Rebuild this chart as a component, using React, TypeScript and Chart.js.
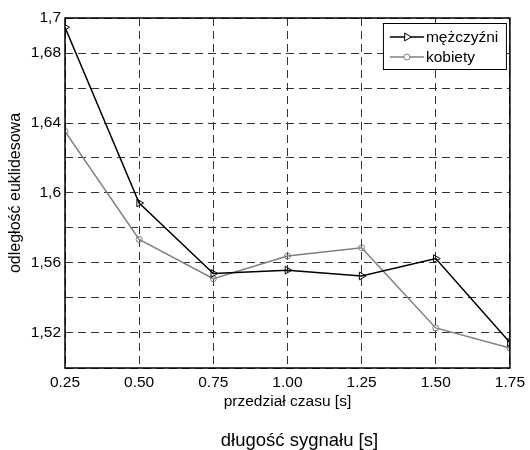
import React, { useEffect, useRef } from 'react';
import { Chart, registerables } from 'chart.js';

Chart.register(...registerables);

const xValues = [0.25, 0.5, 0.75, 1.0, 1.25, 1.5, 1.75];
const menValues = [1.6947, 1.5943, 1.554, 1.5559, 1.5526, 1.5625, 1.5146];
const womenValues = [1.6352, 1.5735, 1.551, 1.564, 1.5687, 1.5229, 1.5114];
const yLabeledTicks = [1.52, 1.56, 1.6, 1.64, 1.68, 1.7];
const seriesNames = ['mężczyźni', 'kobiety'];
const xTitle = 'przedział czasu [s]';
const yTitle = 'odległość euklidesowa';
const bottomTitle = 'długość sygnału [s]';

const FONT = '"Liberation Sans", Arial, sans-serif';
const MEN_COLOR = '#000000';
const WOMEN_COLOR = '#7f7f7f';

const framePlugin = {
  id: 'frameAndLegend',
  afterDraw(chart: any) {
    const { ctx, chartArea } = chart;
    const { left, right, top, bottom } = chartArea;
    ctx.save();
    // frame
    ctx.strokeStyle = '#000';
    ctx.lineWidth = 1.5;
    ctx.setLineDash([]);
    ctx.strokeRect(left, top, right - left, bottom - top);

    // legend box
    const bw = 123;
    const bh = 46;
    const bx = right - 4 - bw;
    const by = top + 5;
    ctx.fillStyle = '#fff';
    ctx.fillRect(bx, by, bw, bh);
    ctx.lineWidth = 1;
    ctx.strokeStyle = '#000';
    ctx.strokeRect(bx + 0.5, by + 0.5, bw, bh);

    const rows = [
      { name: seriesNames[0], color: MEN_COLOR, marker: 'triangle', y: by + 14 },
      { name: seriesNames[1], color: WOMEN_COLOR, marker: 'circle', y: by + 34 },
    ];
    ctx.font = `15.5px ${FONT}`;
    ctx.textBaseline = 'middle';
    ctx.textAlign = 'left';
    for (const r of rows) {
      ctx.strokeStyle = r.color;
      ctx.lineWidth = 1.5;
      ctx.beginPath();
      ctx.moveTo(bx + 7, r.y);
      ctx.lineTo(bx + 41, r.y);
      ctx.stroke();
      const mx = bx + 24;
      ctx.lineWidth = 1;
      ctx.fillStyle = '#fff';
      ctx.beginPath();
      if (r.marker === 'triangle') {
        const rad = 4.5;
        ctx.moveTo(mx + rad, r.y);
        ctx.lineTo(mx - rad / 2, r.y - rad * 0.866);
        ctx.lineTo(mx - rad / 2, r.y + rad * 0.866);
        ctx.closePath();
      } else {
        ctx.arc(mx, r.y, 3, 0, Math.PI * 2);
      }
      ctx.fill();
      ctx.stroke();
      ctx.fillStyle = '#000';
      ctx.fillText(r.name, bx + 43, r.y + 1);
    }

    // secondary bottom title
    ctx.font = `18.5px ${FONT}`;
    ctx.textAlign = 'center';
    ctx.textBaseline = 'middle';
    ctx.fillStyle = '#000';
    ctx.fillText(bottomTitle, (left + right) / 2 + 12, chart.height - 9.5);
    ctx.restore();
  },
};

export default function App() {
  const canvasRef = useRef<HTMLCanvasElement | null>(null);

  useEffect(() => {
    if (!canvasRef.current) return;
    const chart = new Chart(canvasRef.current, {
      type: 'line',
      data: {
        datasets: [
          {
            label: seriesNames[0],
            data: xValues.map((x, i) => ({ x, y: menValues[i] })),
            borderColor: MEN_COLOR,
            borderWidth: 1.5,
            pointStyle: 'triangle',
            pointRotation: 90,
            pointRadius: 4.5,
            pointBorderWidth: 1,
            pointBorderColor: MEN_COLOR,
            pointBackgroundColor: 'rgba(255,255,255,0)',
            tension: 0,
            fill: false,
          },
          {
            label: seriesNames[1],
            data: xValues.map((x, i) => ({ x, y: womenValues[i] })),
            borderColor: WOMEN_COLOR,
            borderWidth: 1.5,
            pointStyle: 'circle',
            pointRadius: 3,
            pointBorderWidth: 1,
            pointBorderColor: WOMEN_COLOR,
            pointBackgroundColor: 'rgba(255,255,255,0)',
            tension: 0,
            fill: false,
          },
        ],
      },
      options: {
        animation: false,
        responsive: false,
        layout: { padding: { top: 18, right: 16, left: 0, bottom: 0 } },
        plugins: {
          legend: { display: false },
          tooltip: { enabled: false },
        },
        scales: {
          x: {
            type: 'linear',
            min: 0.25,
            max: 1.75,
            afterFit: (s: any) => {
              s.height = 82;
            },
            ticks: {
              stepSize: 0.25,
              autoSkip: false,
              maxRotation: 0,
              padding: 5,
              color: '#000',
              font: { family: FONT, size: 15.5 },
              callback: (v: any) => Number(v).toFixed(2),
            },
            grid: {
              color: '#333',
              lineWidth: 1,
              drawTicks: false,
            },
            border: { display: false, dash: [8, 5] },
            title: {
              display: true,
              text: xTitle,
              color: '#000',
              font: { family: FONT, size: 15.5 },
              padding: { top: 0, bottom: 39 },
            },
          },
          y: {
            type: 'linear',
            min: 1.5,
            max: 1.7,
            afterFit: (s: any) => {
              s.width = 65;
            },
            ticks: {
              stepSize: 0.02,
              autoSkip: false,
              padding: 4,
              color: '#000',
              font: { family: FONT, size: 15.5 },
              callback: (v: any) => {
                const k = Math.round(Number(v) * 100);
                const hit = yLabeledTicks.find((t) => Math.round(t * 100) === k);
                if (hit === undefined) return '';
                return String(hit).replace('.', ',');
              },
            },
            grid: {
              color: '#333',
              lineWidth: 1,
              drawTicks: false,
            },
            border: { display: false, dash: [8, 5] },
            title: {
              display: true,
              text: yTitle,
              color: '#000',
              font: { family: FONT, size: 16 },
              padding: { top: 6, bottom: 0 },
            },
          },
        },
      },
      plugins: [framePlugin],
    });
    return () => chart.destroy();
  }, []);

  return (
    <div style={{ position: 'absolute', left: 0, top: 0, width: 530, height: 450, background: '#fff' }}>
      <canvas ref={canvasRef} width={530} height={450} />
    </div>
  );
}
